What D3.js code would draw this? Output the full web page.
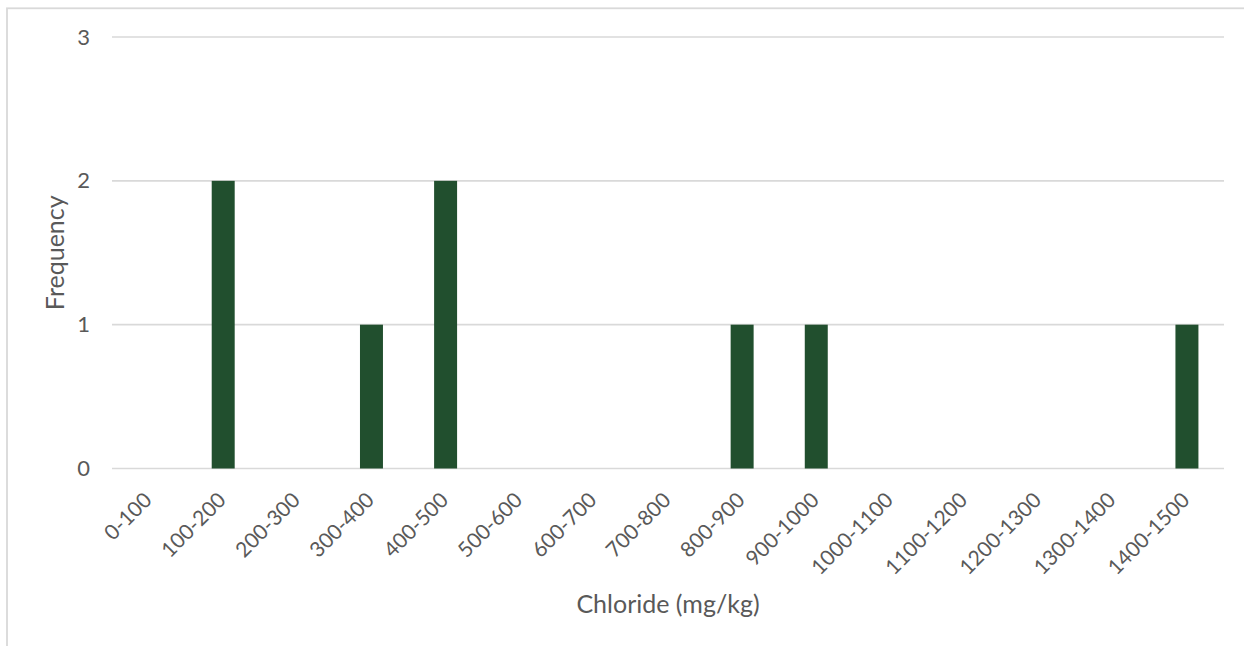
<!DOCTYPE html>
<html>
<head>
<meta charset="utf-8">
<script src="https://cdn.jsdelivr.net/npm/d3@7"></script>
<style>
  html, body { margin: 0; padding: 0; background: #ffffff; }
  svg { display: block; }
  text { font-family: Lato, "Open Sans", sans-serif; fill: #595959; }
</style>
</head>
<body>
<svg id="chart" width="1244" height="646"></svg>
<script>
const categories = ["0-100","100-200","200-300","300-400","400-500","500-600","600-700","700-800","800-900","900-1000","1000-1100","1100-1200","1200-1300","1300-1400","1400-1500"];
const frequency = [0, 2, 0, 1, 2, 0, 0, 0, 1, 1, 0, 0, 0, 0, 1];
const yTicks = [0, 1, 2, 3];
const xTitle = "Chloride (mg/kg)";
const yTitle = "Frequency";

const W = 1244, H = 646;
const plot = { left: 112, right: 1224, top: 37, bottom: 468.5 };
const svg = d3.select("#chart");

// chart border
svg.append("rect")
  .attr("x", 7).attr("y", 8.3)
  .attr("width", W + 20).attr("height", H + 20)
  .attr("fill", "#ffffff")
  .attr("stroke", "#d9d9d9").attr("stroke-width", 1.8);

const x = d3.scaleBand()
  .domain(categories)
  .range([plot.left, plot.right])
  .paddingInner(0.69)
  .paddingOuter(0.345);

const y = d3.scaleLinear()
  .domain([0, 3])
  .range([plot.bottom, plot.top]);

// gridlines
svg.append("g")
  .selectAll("line")
  .data(yTicks)
  .join("line")
  .attr("x1", plot.left).attr("x2", plot.right)
  .attr("y1", d => y(d)).attr("y2", d => y(d))
  .attr("stroke", "#d9d9d9").attr("stroke-width", 1.6);

// bars
svg.append("g")
  .selectAll("rect")
  .data(categories.map((c, i) => ({ c, v: frequency[i] })))
  .join("rect")
  .attr("x", d => x(d.c))
  .attr("width", x.bandwidth())
  .attr("y", d => y(d.v))
  .attr("height", d => y(0) - y(d.v))
  .attr("fill", "#214f2e");

// y axis
const yAxis = svg.append("g")
  .attr("transform", `translate(${plot.left},0)`)
  .call(d3.axisLeft(y).tickValues(yTicks).tickFormat(d3.format("d")).tickSize(0).tickPadding(22));
yAxis.select(".domain").remove();
yAxis.selectAll("text")
  .style("font-family", "Lato, sans-serif")
  .style("font-size", "22px")
  .attr("fill", "#595959");

// x axis
const xAxis = svg.append("g")
  .attr("transform", `translate(0,${plot.bottom})`)
  .call(d3.axisBottom(x).tickSize(0));
xAxis.select(".domain").remove();
xAxis.selectAll("text")
  .style("font-family", "Lato, sans-serif")
  .style("font-size", "21px")
  .attr("fill", "#595959")
  .attr("y", 0).attr("dy", 0)
  .attr("text-anchor", "end")
  .attr("transform", "translate(4,33) rotate(-45)");

// axis titles
svg.append("text")
  .attr("x", (plot.left + plot.right) / 2)
  .attr("y", 613)
  .attr("text-anchor", "middle")
  .style("font-size", "25px")
  .text(xTitle);

svg.append("text")
  .attr("transform", `translate(64,${(plot.top + plot.bottom) / 2}) rotate(-90)`)
  .attr("text-anchor", "middle")
  .style("font-size", "25px")
  .text(yTitle);
</script>
</body>
</html>
